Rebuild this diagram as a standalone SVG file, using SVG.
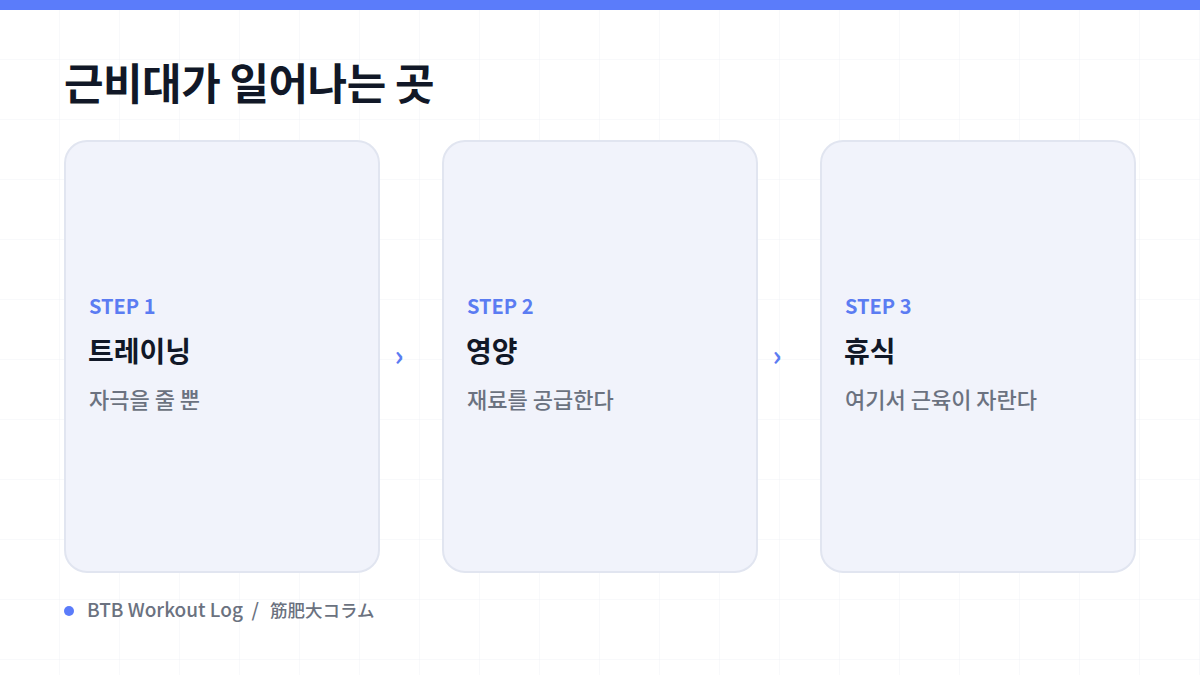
<svg xmlns="http://www.w3.org/2000/svg" width="1200" height="675" viewBox="0 0 1200 675">
  <defs>
    <pattern id="grid" x="0" y="0" width="60" height="60" patternUnits="userSpaceOnUse">
      <path d="M60 0 V60 M0 60 H60" fill="none" stroke="#f0f2f6" stroke-width="1"/>
    </pattern>
    <style>
      .card { fill: #f1f3fb; stroke: #e1e5f0; stroke-width: 2; }
      .step { font-family: "Noto Sans CJK KR", "Noto Sans", sans-serif; font-size: 20px; font-weight: 700; fill: #5b7cf2; }
      .name { font-family: "Noto Sans CJK KR", sans-serif; font-size: 28px; font-weight: 700; fill: #111827; }
      .desc { font-family: "Noto Sans CJK KR", sans-serif; font-size: 22px; font-weight: 500; fill: #6b7280; }
      .arrow { font-family: "Noto Sans CJK KR", sans-serif; font-size: 28px; font-weight: 700; fill: #5b7cf2; }
      .foot { font-family: "Noto Sans CJK JP", sans-serif; font-weight: 500; fill: #6b7280; }
    </style>
  </defs>
  <rect x="0" y="0" width="1200" height="675" fill="#ffffff"/>
  <rect x="0" y="0" width="1200" height="675" fill="url(#grid)"/>
  <rect x="0" y="0" width="1200" height="10" fill="#5b7cfa"/>

  <text x="64" y="100" font-family="Noto Sans CJK KR, sans-serif" font-size="43" font-weight="700" fill="#111827" letter-spacing="-0.5">근비대가 일어나는 곳</text>

  <g id="step1">
    <rect class="card" x="65" y="141" width="314" height="431" rx="22"/>
    <text class="step" x="89" y="314">STEP 1</text>
    <text class="name" x="88" y="362">트레이닝</text>
    <text class="desc" x="89" y="408">자극을 줄 뿐</text>
  </g>
  <g id="step2">
    <rect class="card" x="443" y="141" width="314" height="431" rx="22"/>
    <text class="step" x="467" y="314">STEP 2</text>
    <text class="name" x="466" y="362">영양</text>
    <text class="desc" x="467" y="408">재료를 공급한다</text>
  </g>
  <g id="step3">
    <rect class="card" x="821" y="141" width="314" height="431" rx="22"/>
    <text class="step" x="845" y="314">STEP 3</text>
    <text class="name" x="844" y="362">휴식</text>
    <text class="desc" x="845" y="408">여기서 근육이 자란다</text>
  </g>

  <g id="connectors">
    <text class="arrow" x="399" y="366" text-anchor="middle">›</text>
    <text class="arrow" x="777" y="366" text-anchor="middle">›</text>
  </g>

  <g id="footer">
    <circle cx="69" cy="611" r="5" fill="#5b7cfa"/>
    <text class="foot" x="87" y="617" font-size="19" xml:space="preserve">BTB Workout Log  /  <tspan x="270" font-size="17.5">筋肥大コラム</tspan></text>
  </g>
</svg>
